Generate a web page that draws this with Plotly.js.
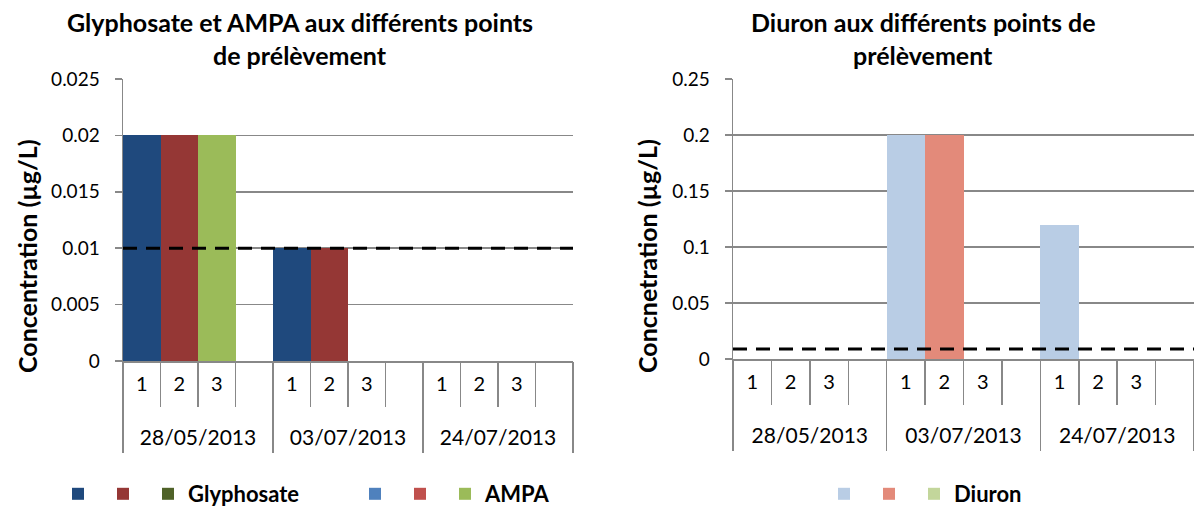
<!DOCTYPE html>
<html>
<head>
<meta charset="utf-8">
<script src="https://cdn.plot.ly/plotly-3.0.1.min.js"></script>
<style>html,body{margin:0;padding:0;background:#fff;}#chart{width:1194px;height:506px;}</style>
</head>
<body>
<div id="chart"></div>
<script>
// ---- data ----
const dates = ["28/05/2013", "03/07/2013", "24/07/2013"];
const points = ["1", "2", "3", ""];
const leftTitle = ["Glyphosate et AMPA aux différents points", "de prélèvement"];
const rightTitle = ["Diuron aux différents points de", "prélèvement"];
const leftYTitle = "Concentration (µg/L)";
const rightYTitle = "Concnetration (µg/L)";

// one value per slot (date x point), null = no bar
const glyphosate1 = [0.02, null, null, null, 0.01, null, null, null, null, null, null, null];
const glyphosate2 = [null, 0.02, null, null, null, 0.01, null, null, null, null, null, null];
const glyphosate3 = [null, null, null, null, null, null, null, null, null, null, null, null];
const ampa1 = [null, null, null, null, null, null, null, null, null, null, null, null];
const ampa2 = [null, null, null, null, null, null, null, null, null, null, null, null];
const ampa3 = [null, null, 0.02, null, null, null, null, null, null, null, null, null];
const diuron1 = [null, null, null, null, 0.2, null, null, null, 0.12, null, null, null];
const diuron2 = [null, null, null, null, null, 0.2, null, null, null, null, null, null];
const diuron3 = [null, null, null, null, null, null, null, null, null, null, null, null];
const leftLimit = 0.01;
const rightLimit = 0.009;

const glyphColors = ["#1F497D", "#953735", "#4F6228"];
const ampaColors = ["#4F81BD", "#C0504D", "#9BBB59"];
const diuronColors = ["#B9CDE5", "#E38A7A", "#C3D69B"];

// ---- build ----
const slotLabels = [];
dates.forEach(d => points.forEach(p => slotLabels.push(p)));
const slotIdx = slotLabels.map((s, i) => i);
const nSlots = slotLabels.length;
const slotBounds = slotIdx.map(i => i - 0.5).concat([nSlots - 0.5]);
const dateCenters = dates.map((d, i) => i * points.length + (points.length - 1) / 2);
const groupBounds = dates.map((d, i) => i * points.length - 0.5).concat([nSlots - 0.5]);
const slotRange = [-0.5, nSlots - 0.5];

const FONT = "Lato, 'Open Sans', sans-serif";
const GRID = "#888888";

function bar(vals, color, name, xa, ya, legend) {
  return {type: "bar", x: slotIdx, y: vals, name: name, xaxis: xa, yaxis: ya, legend: legend,
          marker: {color: color, line: {width: 0}}, width: 1, showlegend: true};
}
function limitLine(val, xa, ya) {
  return {type: "scatter", mode: "lines", x: [slotRange[0], slotRange[1]], y: [val, val],
          xaxis: xa, yaxis: ya, showlegend: false, hoverinfo: "skip",
          line: {color: "#000", width: 3, dash: "14px,9px"}};
}

const traces = [
  bar(glyphosate1, glyphColors[0], "", "x", "y", "legend"),
  bar(glyphosate2, glyphColors[1], "", "x", "y", "legend"),
  bar(glyphosate3, glyphColors[2], "Glyphosate", "x", "y", "legend"),
  bar(ampa1, ampaColors[0], "", "x", "y", "legend2"),
  bar(ampa2, ampaColors[1], "", "x", "y", "legend2"),
  bar(ampa3, ampaColors[2], "AMPA", "x", "y", "legend2"),
  limitLine(leftLimit, "x2", "y"),
  bar(diuron1, diuronColors[0], "", "x3", "y2", "legend3"),
  bar(diuron2, diuronColors[1], "", "x3", "y2", "legend3"),
  bar(diuron3, diuronColors[2], "Diuron", "x3", "y2", "legend3"),
  limitLine(rightLimit, "x4", "y2")
];

const W = 1194, H = 506;
const leftX = [123 / W, 573 / W];
const rightX = [733 / W, 1];
const leftY = [1 - 361 / H, 1 - 79 / H];
const rightY = [1 - 359 / H, 1 - 79 / H];

function slotAxis(domain, anchor) {
  return {domain: domain, anchor: anchor, type: "linear", range: slotRange,
          tickmode: "array", tickvals: slotIdx, ticktext: slotLabels, ticks: "",
          ticklabelstandoff: 4, tickfont: {family: FONT, size: 20, color: "#000"},
          minor: {tickmode: "array", tickvals: slotBounds, ticks: "outside", ticklen: 44, tickcolor: GRID, tickwidth: 1.5, showgrid: false},
          showline: true, linecolor: GRID, linewidth: 1.5, showgrid: false, zeroline: false, fixedrange: true};
}
function dateAxis(domain, anchor, over) {
  return {domain: domain, anchor: anchor, overlaying: over, type: "linear", range: slotRange,
          tickmode: "array", tickvals: dateCenters, ticktext: dates, ticks: "",
          ticklabelstandoff: 62, tickfont: {family: FONT, size: 21, color: "#000"},
          minor: {tickmode: "array", tickvals: groupBounds, ticks: "outside", ticklen: 91, tickcolor: GRID, tickwidth: 1.5, showgrid: false},
          showgrid: false, zeroline: false, showline: false, fixedrange: true};
}
function yAxis(domain, anchor, range, dtick) {
  return {domain: domain, anchor: anchor, range: range, dtick: dtick, tick0: 0,
          showgrid: true, gridcolor: GRID, gridwidth: 1.5, zeroline: false,
          showline: true, linecolor: GRID, linewidth: 1.5, ticks: "outside", ticklen: 7,
          tickcolor: GRID, tickwidth: 1.5, ticklabelstandoff: 11,
          tickfont: {family: FONT, size: 19, color: "#000"}, fixedrange: true};
}

const titleFont = {family: FONT, size: 25, color: "#000", weight: 700};
const axisTitleFont = {family: FONT, size: 25, color: "#000", weight: 700};
const legendBase = {orientation: "h", yanchor: "middle", y: 1 - 494 / H, xanchor: "left",
                    font: {family: FONT, size: 22, color: "#000", weight: 700},
                    bgcolor: "rgba(0,0,0,0)", traceorder: "normal"};

const layout = {
  width: W, height: H,
  margin: {l: 0, r: 0, t: 0, b: 0, autoexpand: false},
  paper_bgcolor: "#fff", plot_bgcolor: "rgba(0,0,0,0)",
  barmode: "overlay", bargap: 0,
  font: {family: FONT, color: "#000"},
  xaxis: slotAxis(leftX, "y"),
  xaxis2: dateAxis(leftX, "y", "x"),
  xaxis3: slotAxis(rightX, "y2"),
  xaxis4: dateAxis(rightX, "y2", "x3"),
  yaxis: yAxis(leftY, "x", [0, 0.025], 0.005),
  yaxis2: yAxis(rightY, "x3", [0, 0.25], 0.05),
  legend: Object.assign({}, legendBase, {x: 58 / W}),
  legend2: Object.assign({}, legendBase, {x: 355 / W}),
  legend3: Object.assign({}, legendBase, {x: 824 / W}),
  annotations: [
    {text: leftTitle[0], xref: "paper", yref: "paper", x: 300 / W, y: 1 - 22 / H, xanchor: "center", yanchor: "middle", showarrow: false, font: titleFont},
    {text: leftTitle[1], xref: "paper", yref: "paper", x: 300 / W, y: 1 - 55 / H, xanchor: "center", yanchor: "middle", showarrow: false, font: titleFont},
    {text: rightTitle[0], xref: "paper", yref: "paper", x: 923 / W, y: 1 - 22 / H, xanchor: "center", yanchor: "middle", showarrow: false, font: titleFont},
    {text: rightTitle[1], xref: "paper", yref: "paper", x: 923 / W, y: 1 - 55 / H, xanchor: "center", yanchor: "middle", showarrow: false, font: titleFont},
    {text: leftYTitle, xref: "paper", yref: "paper", x: 27 / W, y: 1 - 256 / H, xanchor: "center", yanchor: "middle", textangle: -90, showarrow: false, font: axisTitleFont},
    {text: rightYTitle, xref: "paper", yref: "paper", x: 647 / W, y: 1 - 256 / H, xanchor: "center", yanchor: "middle", textangle: -90, showarrow: false, font: axisTitleFont}
  ]
};

Plotly.newPlot("chart", traces, layout, {displayModeBar: false, staticPlot: true});
</script>
</body>
</html>
